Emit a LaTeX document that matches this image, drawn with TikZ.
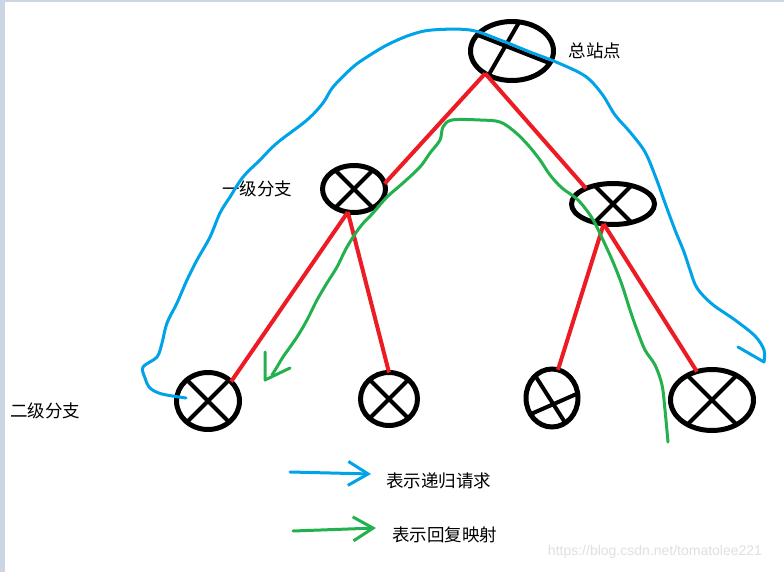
\documentclass[tikz,border=0pt]{standalone}
\usepackage{fontspec}
\newfontfamily\cjk{Noto Sans CJK SC}
\newfontfamily\wmfont{Liberation Sans}
\usetikzlibrary{positioning,shapes.geometric}
\usetikzlibrary{arrows.meta}
\tikzset{>={Straight Barb[length=20pt,width=24pt]}}
\definecolor{paintred}{RGB}{237,28,36}
\definecolor{paintblue}{RGB}{0,162,232}
\definecolor{paintgreen}{RGB}{34,177,76}
\definecolor{edgegray}{RGB}{204,213,228}

\begin{document}
\begin{tikzpicture}[x=1pt,y=-1pt,on grid,
    site/.style={ellipse,draw,line width=5pt,inner sep=0pt,outer sep=0pt},
    cross/.style={line width=4pt},
    branch/.style={paintred,line width=4pt},
    request/.style={paintblue,line width=3pt,line cap=round,line join=round},
    reply/.style={paintgreen,line width=3pt,line cap=round,line join=round},
    tag/.style={font=\cjk\fontsize{17.5}{20}\selectfont,inner sep=0pt}]
    \useasboundingbox (0,0) rectangle (784,572);
    \fill[white] (0,0) rectangle (784,572);
    \fill[edgegray] (0,0) rectangle (5,572);
    \fill[edgegray] (0,0) rectangle (784,2);

    % the sites
    \node[site,minimum width=83pt,minimum height=59pt] (root) at (512,51) {};
    \node[site,minimum width=63pt,minimum height=47pt] (l1) [below left=138pt and 158pt of root] {};
    \node[site,minimum width=83pt,minimum height=41pt] (r1) [below right=153pt and 101pt of root] {};
    \node[site,minimum width=63pt,minimum height=57pt] (n1) [below left=212pt and 146pt of l1] {};
    \node[site,minimum width=57pt,minimum height=53pt] (n2) [below right=210pt and 35pt of l1] {};
    \node[site,minimum width=52pt,minimum height=58pt] (n3) [below left=194pt and 61pt of r1] {};
    \node[site,minimum width=83pt,minimum height=61pt] (n4) [below right=196pt and 99pt of r1] {};

    \foreach \n in {l1,r1,n1,n2,n4}
        \draw[cross] (\n.135) -- (\n.-45) (\n.45) -- (\n.-135);
    \draw[cross] (root.76) -- (root.226) (root.155) -- (root.-18);
    \draw[cross] (n3.127) -- (n3.-62) (n3.217) -- (n3.10);

    \draw[branch]
    (root.220) edge (l1.10)
    (root.220) edge (r1.150)
    (l1.255)   edge (n1.40)
    (l1.255)   edge (n2.north)
    (r1.245)   edge (n3.78)
    (r1.245)   edge (n4.118);

    \node[tag] (rootlabel) [right=83pt of root] {总站点};
    \node[tag] (l1label) [left=97pt of l1] {一级分支};
    \node[tag] (n1label) [below left=10pt and 163pt of n1] {二级分支};

    % recursive request
    \draw[request] plot[smooth,tension=0.55] coordinates {
        (186,398) (162,394) (150,388) (145,378) (143,367) (157,357) (162,343)
        (167,323) (177,303) (187,280) (197,260) (210,237) (220,213) (230,197)
        (243,177) (260,160) (277,143) (307,120) (323,103) (333,87) (353,67)
        (367,57) (387,45) (410,35) (432,30) (470,30) (500,40) (530,52) (556,62)
        (585,76) (602,94) (615,115) (630,132) (645,152) (656,178) (665,203)
        (675,230) (684,252) (690,270) (697,288) (712,304) (735,320) (755,336)
        (764,350) (764,362)} -- (738,347);

    % reply mapping
    \draw[reply] plot[smooth,tension=0.55] coordinates {
        (668,442) (665,410) (662,385) (655,365) (645,350) (637,330) (630,310)
        (622,285) (613,262) (603,240) (592,218) (578,200) (562,188) (550,175)
        (540,160) (528,145) (515,132) (500,122) (480,120) (452,120) (443,127)
        (440,140) (430,153) (420,167) (403,183) (387,197) (373,213) (360,227)
        (347,247) (337,267) (327,283) (317,300) (307,320) (297,337) (283,357)
        (277,367) (272,375)};
    \draw[reply] (265,352) -- (265,380) -- (290,368);

    % legend
    \coordinate (reqfrom) at (290,472);
    \coordinate (reqto) at (371,474);
    \draw[request,->] (reqfrom) -- (reqto);
    \node[tag,anchor=west] (reqtext) at (386,481) {表示递归请求};
    \coordinate (repfrom) at (293,531);
    \coordinate (repto) at (376,528);
    \draw[reply,->] (repfrom) -- (repto);
    \node[tag,anchor=west] (reptext) at (392,535) {表示回复映射};

    \node[text=black!12,font=\wmfont\fontsize{14}{16}\selectfont] (mark) at (655,552) {https://blog.csdn.net/tomatolee221};
\end{tikzpicture}
\end{document}
